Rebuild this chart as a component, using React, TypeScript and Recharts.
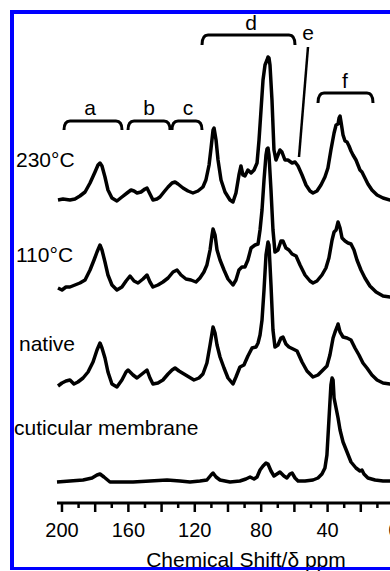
import React from 'react';
import { LineChart, Line, XAxis, YAxis } from 'recharts';

// ---- data (ppm positions and intensities above each trace baseline) ----
const ppm230 = [202.4, 199.4, 195.2, 192.2, 189.2, 186.1, 183.1, 180.1, 178.3, 177.1, 175.9, 174.1, 172.3, 169.9, 166.9, 163.9, 160.8, 158.4, 156.6, 154.8, 152.4, 150.0, 148.8, 147.0, 145.2, 142.8, 141.0, 138.6, 136.1, 133.7, 131.9, 130.1, 127.1, 124.1, 121.1, 118.1, 115.1, 113.3, 111.4, 110.2, 109.0, 108.4, 107.2, 106.0, 104.2, 101.8, 98.8, 97.0, 95.2, 93.4, 92.2, 91.0, 89.8, 88.0, 86.1, 84.3, 82.5, 81.3, 80.1, 78.9, 77.7, 76.5, 75.9, 75.3, 74.7, 73.5, 72.3, 71.1, 69.9, 68.7, 67.5, 65.7, 63.9, 61.4, 59.6, 57.8, 55.4, 53.0, 50.6, 48.8, 46.4, 44.0, 41.6, 39.8, 38.0, 36.1, 34.9, 33.7, 33.1, 32.5, 31.9, 30.7, 29.5, 28.3, 27.1, 25.9, 24.7, 22.9, 21.7, 20.5, 19.3, 17.5, 15.7, 13.3, 10.2, 6.6, 2.4, 0.0];
const int230 = [-1, 0, -1, 0, 3, 7, 16, 27, 34, 36, 33, 22, 9, 1, -2, 2, 6, 9, 8, 6, 7, 10, 11, 5, -1, 0, 2, 7, 12, 16, 17, 15, 11, 8, 6, 8, 12, 19, 34, 51, 69, 71, 59, 39, 19, 7, -1, -3, 6, 24, 33, 24, 23, 29, 26, 29, 36, 59, 89, 119, 134, 139, 142, 141, 134, 99, 49, 39, 44, 49, 47, 39, 39, 36, 37, 33, 24, 14, 8, 6, 8, 14, 22, 31, 49, 66, 74, 75, 81, 83, 77, 64, 58, 57, 53, 48, 44, 39, 34, 29, 27, 21, 15, 9, 4, 1, -1, -1];

const ppm110 = [202.4, 200.0, 197.6, 195.2, 192.2, 189.2, 186.1, 183.1, 180.7, 178.9, 177.1, 175.9, 174.1, 172.3, 169.9, 166.9, 163.9, 161.4, 159.0, 156.6, 154.2, 151.2, 148.8, 147.0, 145.2, 142.2, 139.2, 136.1, 133.1, 130.7, 128.3, 125.3, 122.3, 119.3, 116.9, 114.5, 112.7, 110.8, 109.6, 109.0, 107.8, 106.6, 104.8, 102.4, 100.0, 97.0, 95.2, 93.4, 91.6, 89.8, 88.0, 86.1, 83.7, 81.9, 80.7, 79.5, 78.3, 77.1, 76.5, 75.9, 75.3, 74.1, 72.9, 71.7, 69.9, 68.1, 66.9, 65.1, 63.3, 61.4, 59.0, 56.6, 53.6, 50.6, 48.8, 46.4, 43.4, 41.0, 39.2, 37.3, 36.1, 34.9, 33.7, 32.5, 31.3, 29.5, 27.7, 25.9, 24.1, 22.3, 19.9, 17.5, 14.5, 10.8, 6.6, 2.4, 0.0];
const int110 = [0, -2, 1, 1, 3, 5, 8, 18, 28, 36, 43, 38, 26, 13, 3, -2, 1, 7, 12, 7, 5, 9, 13, 6, 1, 3, 6, 10, 16, 18, 13, 9, 8, 6, 10, 16, 23, 38, 53, 59, 53, 38, 28, 18, 9, 3, 8, 18, 21, 21, 28, 40, 43, 44, 58, 78, 108, 133, 139, 140, 133, 98, 58, 36, 38, 47, 47, 40, 38, 34, 32, 23, 13, 7, 5, 7, 13, 20, 30, 48, 56, 58, 66, 60, 50, 47, 45, 44, 38, 28, 18, 10, 2, -4, -8, -9, -9];

const ppmNative = [202.4, 200.0, 197.6, 195.2, 192.8, 190.4, 187.3, 184.3, 181.3, 178.9, 177.1, 175.9, 174.1, 172.3, 169.9, 166.9, 163.9, 161.4, 160.2, 157.2, 154.8, 151.8, 148.8, 147.0, 145.2, 142.2, 139.2, 136.1, 133.7, 131.9, 129.5, 126.5, 123.5, 120.5, 117.5, 115.1, 112.7, 110.8, 109.6, 109.0, 107.8, 106.6, 104.8, 102.4, 100.0, 97.0, 95.2, 92.8, 90.4, 88.0, 85.5, 83.1, 81.9, 80.7, 79.5, 78.3, 77.1, 75.9, 75.3, 74.1, 72.9, 71.7, 69.9, 68.1, 66.9, 65.1, 63.3, 60.8, 58.4, 55.4, 52.4, 48.8, 45.8, 42.8, 40.4, 38.6, 36.7, 35.5, 34.3, 33.7, 32.5, 30.7, 28.3, 25.9, 23.5, 21.1, 18.7, 16.3, 13.3, 10.2, 6.6, 2.4, 0.0];
const intNative = [-1, 2, 4, 5, 1, 3, 7, 13, 23, 35, 42, 37, 27, 13, 1, -2, 5, 13, 15, 10, 7, 11, 15, 7, 1, 2, 5, 11, 15, 17, 14, 11, 8, 5, 7, 11, 22, 40, 52, 58, 52, 40, 28, 17, 7, 1, 8, 18, 20, 29, 37, 38, 42, 50, 65, 95, 130, 143, 140, 100, 55, 38, 40, 47, 48, 41, 38, 36, 34, 23, 14, 8, 10, 15, 19, 30, 47, 53, 58, 61, 53, 48, 47, 45, 37, 30, 22, 17, 10, 5, 2, 1, 1];

const ppmCuticle = [203.0, 195.2, 187.3, 181.9, 178.9, 177.1, 174.7, 171.1, 165.1, 157.2, 147.0, 136.7, 128.9, 122.9, 116.9, 112.7, 110.2, 109.0, 107.2, 104.8, 98.8, 92.8, 89.2, 86.7, 84.3, 82.5, 80.7, 78.9, 77.1, 75.9, 74.1, 72.3, 70.5, 68.7, 66.3, 64.5, 62.7, 61.4, 59.6, 57.8, 53.6, 48.8, 45.8, 43.4, 41.6, 40.4, 39.2, 38.0, 37.3, 36.7, 36.1, 34.9, 33.7, 32.5, 30.7, 28.3, 25.9, 22.9, 20.5, 19.3, 18.1, 15.7, 11.4, 6.6, 2.4, 0.0];
const intCuticle = [0, 1, 2, 4, 7, 8, 5, 0, 0, 0, 1, 2, 1, 0, 1, 2, 7, 9, 5, 2, 0, 1, 3, 5, 3, 5, 12, 16, 19, 18, 11, 6, 8, 10, 6, 4, 8, 9, 4, 1, 1, 2, 4, 8, 14, 27, 62, 97, 104, 102, 84, 74, 64, 52, 40, 30, 20, 14, 11, 12, 8, 4, 2, 1, 1, 1];

const seriesNames = ['230°C', '110°C', 'native', 'cuticular membrane'];
const seriesOffsets = [304, 215, 118, 21];
const xTicks = [200, 190, 180, 170, 160, 150, 140, 130, 120, 110, 100, 90, 80, 70, 60, 50, 40, 30, 20, 10, 0];
const bracketLabels = ['a', 'b', 'c', 'd', 'e', 'f'];
const axisTitle = 'Chemical Shift/δ ppm';

const build = (xs: number[], ys: number[], off: number) =>
  xs.map((x, i) => ({ x, y: ys[i] + off }));

const series = [
  build(ppm230, int230, seriesOffsets[0]),
  build(ppm110, int110, seriesOffsets[1]),
  build(ppmNative, intNative, seriesOffsets[2]),
  build(ppmCuticle, intCuticle, seriesOffsets[3]),
];

const FONT = '"Liberation Sans", Arial, Helvetica, sans-serif';

const Tick = (props: any) => {
  const { x, y, payload } = props;
  const v = payload.value as number;
  const major = v % 20 === 0;
  return (
    <g>
      <line x1={x} x2={x} y1={y} y2={y + (major ? 9 : 5)} stroke="#000" strokeWidth={2.5} />
      {v % 40 === 0 && (
        <text x={x} y={y + 34} textAnchor="middle" fontSize={20} fontFamily={FONT} fill="#000">
          {v}
        </text>
      )}
    </g>
  );
};

const bracket = (x1: number, x2: number, top: number, bottom: number) =>
  `M${x1},${bottom} Q${x1},${top} ${x1 + 6},${top} L${x2 - 6},${top} Q${x2},${top} ${x2},${bottom}`;

export default function App() {
  return (
    <div style={{ position: 'absolute', left: 0, top: 0, width: 390, height: 571, overflow: 'hidden', background: '#fff' }}>
      <div style={{ position: 'absolute', left: 0, top: 0 }}>
        <LineChart width={404} height={571} margin={{ top: 0, right: 10, bottom: 0, left: 57 }}>
          <XAxis
            dataKey="x"
            type="number"
            domain={[0, 203]}
            reversed
            ticks={xTicks}
            interval={0}
            height={68}
            tickSize={0}
            tickMargin={0}
            tick={<Tick />}
            axisLine={{ stroke: '#000', strokeWidth: 3 }}
          />
          <YAxis hide type="number" domain={[0, 503]} />
          {series.map((d, i) => (
            <Line
              key={seriesNames[i]}
              name={seriesNames[i]}
              data={d}
              dataKey="y"
              type="linear"
              stroke="#000"
              strokeWidth={3.5}
              strokeLinejoin="round"
              dot={false}
              activeDot={false}
              isAnimationActive={false}
            />
          ))}
        </LineChart>
      </div>
      <svg width={390} height={571} style={{ position: 'absolute', left: 0, top: 0, pointerEvents: 'none' }}>
        <g fontFamily={FONT} fontSize={21} fill="#000">
          <text x={16} y={167}>{seriesNames[0]}</text>
          <text x={16} y={262}>{seriesNames[1]}</text>
          <text x={19} y={351}>{seriesNames[2]}</text>
          <text x={14} y={435}>{seriesNames[3]}</text>
          <text x={90} y={115} textAnchor="middle">{bracketLabels[0]}</text>
          <text x={149} y={115} textAnchor="middle">{bracketLabels[1]}</text>
          <text x={188} y={115} textAnchor="middle">{bracketLabels[2]}</text>
          <text x={251} y={30} textAnchor="middle">{bracketLabels[3]}</text>
          <text x={308} y={40} textAnchor="middle">{bracketLabels[4]}</text>
          <text x={345} y={88} textAnchor="middle">{bracketLabels[5]}</text>
          <text x={246} y={567} textAnchor="middle">{axisTitle}</text>
        </g>
        <g stroke="#000" strokeWidth={3} fill="none">
          <path d={bracket(64, 122, 121, 130)} />
          <path d={bracket(128, 170, 121, 130)} />
          <path d={bracket(172, 202, 121, 130)} />
          <path d={bracket(202, 295, 35, 45)} />
          <path d={bracket(318, 373, 93, 103)} />
          <line x1={308} y1={47} x2={299} y2={157} strokeWidth={2.5} />
        </g>
      </svg>
      <div
        style={{
          position: 'absolute',
          left: 10,
          top: 10,
          width: 420,
          height: 560,
          boxSizing: 'border-box',
          borderLeft: '4px solid #0000ff',
          borderTop: '4px solid #0000ff',
          borderBottom: '3px solid #0000ff',
          pointerEvents: 'none',
        }}
      />
    </div>
  );
}
